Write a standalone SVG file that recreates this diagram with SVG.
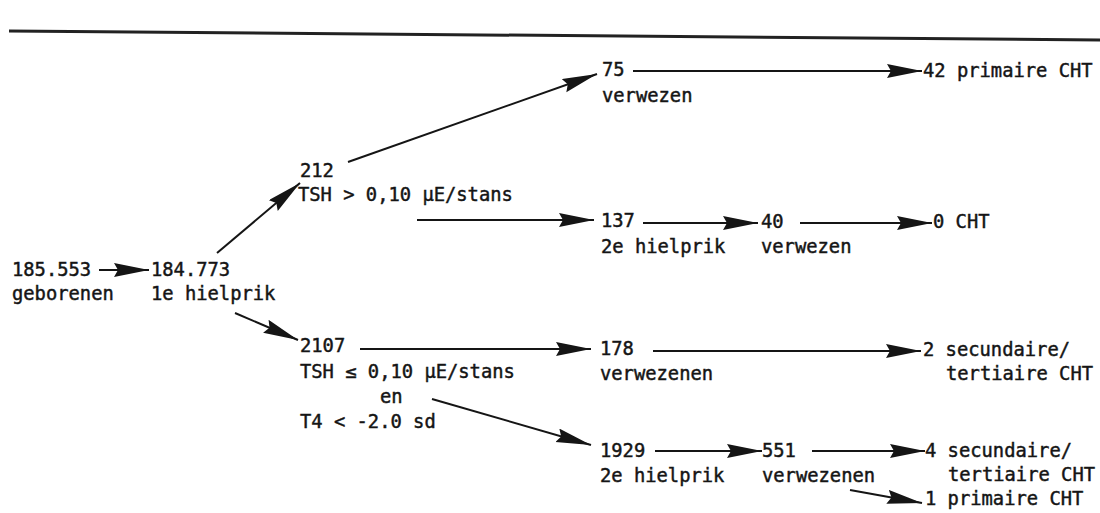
<svg xmlns="http://www.w3.org/2000/svg" width="1100" height="513" viewBox="0 0 1100 513">
<style>
  text { font-family: "DejaVu Sans Mono", "Liberation Mono", monospace; font-size: 18.8px; fill: #151515; stroke: #151515; stroke-width: 0.45px; }
  .c { stroke: #151515; stroke-width: 2; fill: none; marker-end: url(#ah); }
</style>
<defs>
  <marker id="ah" markerUnits="userSpaceOnUse" markerWidth="40" markerHeight="16" refX="35" refY="7" orient="auto">
    <path d="M0,0 L35,7 L0,14 L4,7 z" fill="#151515"/>
  </marker>
</defs>
<rect width="1100" height="513" fill="#ffffff"/>
<line x1="9" y1="31" x2="1100" y2="40" stroke="#222" stroke-width="3"/>

<g id="connectors">
  <path class="c" d="M99,270 L149,270"/>
  <path class="c" d="M217,253 L300,183"/>
  <path class="c" d="M235,313 L298,340"/>
  <path class="c" d="M348,162 L597,74"/>
  <path class="c" d="M417,220 L594,220"/>
  <path class="c" d="M633,71 L922,71"/>
  <path class="c" d="M643,223 L758,223"/>
  <path class="c" d="M800,223 L932,223"/>
  <path class="c" d="M360,349 L591,349"/>
  <path class="c" d="M653,351 L921,351"/>
  <path class="c" d="M432,399 L591,445"/>
  <path class="c" d="M655,451 L762,451"/>
  <path class="c" d="M812,451 L925,451"/>
  <path class="c" d="M850,490 L922,503"/>
</g>

<g id="n-geborenen"><text x="12" y="276">185.553</text><text x="12" y="300">geborenen</text></g>
<g id="n-hielprik1"><text x="151" y="276">184.773</text><text x="151" y="300">1e hielprik</text></g>
<g id="n-212"><text x="300" y="177">212</text><text x="298" y="201">TSH &gt; 0,10 µE/stans</text></g>
<g id="n-75"><text x="602" y="76">75</text><text x="602" y="102">verwezen</text></g>
<g id="n-42"><text x="923" y="77">42 primaire CHT</text></g>
<g id="n-137"><text x="601" y="227">137</text><text x="601" y="253">2e hielprik</text></g>
<g id="n-40"><text x="761" y="228">40</text><text x="761" y="253">verwezen</text></g>
<g id="n-0"><text x="933" y="228">0 CHT</text></g>
<g id="n-2107"><text x="300" y="352">2107</text><text x="300" y="378">TSH ≤ 0,10 µE/stans</text><text x="380" y="403">en</text><text x="300" y="428">T4 &lt; -2.0 sd</text></g>
<g id="n-178"><text x="600" y="355">178</text><text x="600" y="380">verwezenen</text></g>
<g id="n-2"><text x="923" y="356">2 secundaire/</text><text x="946" y="380">tertiaire CHT</text></g>
<g id="n-1929"><text x="600" y="457">1929</text><text x="600" y="482">2e hielprik</text></g>
<g id="n-551"><text x="762" y="457">551</text><text x="762" y="482">verwezenen</text></g>
<g id="n-4"><text x="925" y="457">4 secundaire/</text><text x="948" y="481">tertiaire CHT</text></g>
<g id="n-1"><text x="925" y="505">1 primaire CHT</text></g>
</svg>
